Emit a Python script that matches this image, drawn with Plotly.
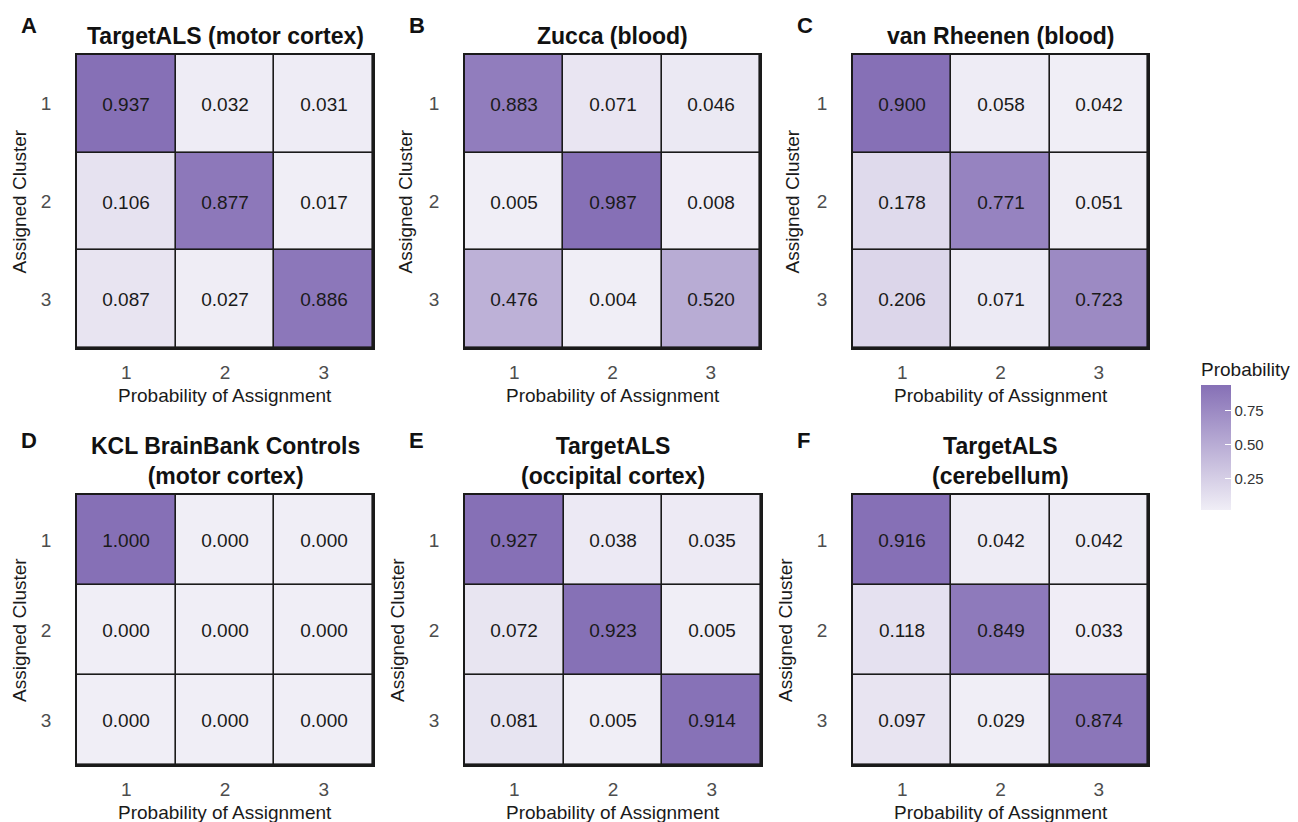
import plotly.graph_objects as go

W, H = 1298, 822

# Cluster labels shared by every panel
clusters = ["1", "2", "3"]

# Rows: assigned cluster, columns: probability of assignment to each cluster
z_a = [[0.937, 0.032, 0.031], [0.106, 0.877, 0.017], [0.087, 0.027, 0.886]]
z_b = [[0.883, 0.071, 0.046], [0.005, 0.987, 0.008], [0.476, 0.004, 0.520]]
z_c = [[0.900, 0.058, 0.042], [0.178, 0.771, 0.051], [0.206, 0.071, 0.723]]
z_d = [[1.000, 0.000, 0.000], [0.000, 0.000, 0.000], [0.000, 0.000, 0.000]]
z_e = [[0.927, 0.038, 0.035], [0.072, 0.923, 0.005], [0.081, 0.005, 0.914]]
z_f = [[0.916, 0.042, 0.042], [0.118, 0.849, 0.033], [0.097, 0.029, 0.874]]

titles = [
    "TargetALS (motor cortex)",
    "Zucca (blood)",
    "van Rheenen (blood)",
    "KCL BrainBank Controls<br>(motor cortex)",
    "TargetALS<br>(occipital cortex)",
    "TargetALS<br>(cerebellum)",
]
letters = ["A", "B", "C", "D", "E", "F"]
matrices = [z_a, z_b, z_c, z_d, z_e, z_f]

FONT = "Liberation Sans, Arial, sans-serif"
LOW, HIGH = "#F0EEF6", "#8670B6"
scale = [[0, LOW], [1, HIGH]]

# Plot-area boxes in pixels: (left, top, right, bottom)
boxes = [
    (77, 55, 373, 348), (465, 55, 760, 348), (853, 55, 1148, 348),
    (77, 495, 373, 765), (465, 495, 761, 765), (853, 495, 1148, 765),
]
ytitle_x = [19, 405, 792, 19, 397, 785]


def px_x(v):
    return v / W


def px_y(v):
    return 1 - v / H


fig = go.Figure()
annotations = []

for i, (z, box) in enumerate(zip(matrices, boxes)):
    l, t, r, b = box
    ax = "" if i == 0 else str(i + 1)
    flat = [v for row in z for v in row]
    trace = go.Heatmap(
        z=z, x=clusters, y=clusters,
        colorscale=scale, zmin=min(flat), zmax=max(flat),
        xgap=1.6, ygap=1.6,
        texttemplate="%{z:.3f}",
        textfont=dict(family=FONT, size=19, color="#1a1a1a"),
        xaxis="x" + ax, yaxis="y" + ax,
        showscale=(i == 0),
        hoverinfo="skip",
    )
    if i == 0:
        trace.colorbar = dict(
            title=dict(text="Probability", side="top",
                       font=dict(family=FONT, size=19, color="#1a1a1a")),
            x=px_x(1201), xanchor="left",
            y=px_y(510), yanchor="bottom",
            len=151 / H, lenmode="fraction",
            thickness=30, outlinewidth=0,
            tickvals=[0.25, 0.50, 0.75], ticktext=["0.25", "0.50", "0.75"],
            ticks="inside", ticklen=6, tickcolor="white",
            tickfont=dict(family=FONT, size=15, color="#333333"),
            ypad=0, xpad=0,
        )
    fig.add_trace(trace)

    axis_common = dict(
        type="category", showgrid=False, zeroline=False,
        showline=True, mirror=True, linecolor="#1a1a1a", linewidth=1.6,
        tickfont=dict(family=FONT, size=19, color="#4d4d4d"),
        ticks="",
    )
    fig.update_layout(**{
        "xaxis" + ax: dict(axis_common, domain=[px_x(l), px_x(r)],
                            anchor="y" + ax, ticklabelstandoff=6),
        "yaxis" + ax: dict(axis_common, domain=[px_y(b), px_y(t)],
                            anchor="x" + ax, autorange="reversed",
                            ticklabelstandoff=20),
    })

    cx = (l + r) / 2
    # panel title
    annotations.append(dict(
        text="<b>" + titles[i] + "</b>", x=px_x(cx), y=px_y(t - 4),
        xref="paper", yref="paper", xanchor="center", yanchor="bottom",
        showarrow=False, font=dict(family=FONT, size=23, color="#111111"),
    ))
    # panel letter
    annotations.append(dict(
        text="<b>" + letters[i] + "</b>", x=px_x(l - 58),
        y=px_y(t - 30 if i < 3 else t - 55),
        xref="paper", yref="paper", xanchor="left", yanchor="middle",
        showarrow=False, font=dict(family=FONT, size=22, color="#111111"),
    ))
    # x axis title
    annotations.append(dict(
        text="Probability of Assignment", x=px_x(cx), y=px_y(b + 47),
        xref="paper", yref="paper", xanchor="center", yanchor="middle",
        showarrow=False, font=dict(family=FONT, size=19, color="#1a1a1a"),
    ))
    # y axis title
    annotations.append(dict(
        text="Assigned Cluster", x=px_x(ytitle_x[i]), y=px_y((t + b) / 2),
        xref="paper", yref="paper", xanchor="center", yanchor="middle",
        textangle=-90, showarrow=False,
        font=dict(family=FONT, size=19, color="#1a1a1a"),
    ))

fig.update_layout(
    width=W, height=H,
    margin=dict(l=0, r=0, t=0, b=0),
    paper_bgcolor="white", plot_bgcolor="#1a1a1a",
    annotations=annotations,
    font=dict(family=FONT),
)

fig.write_html("out.html")
